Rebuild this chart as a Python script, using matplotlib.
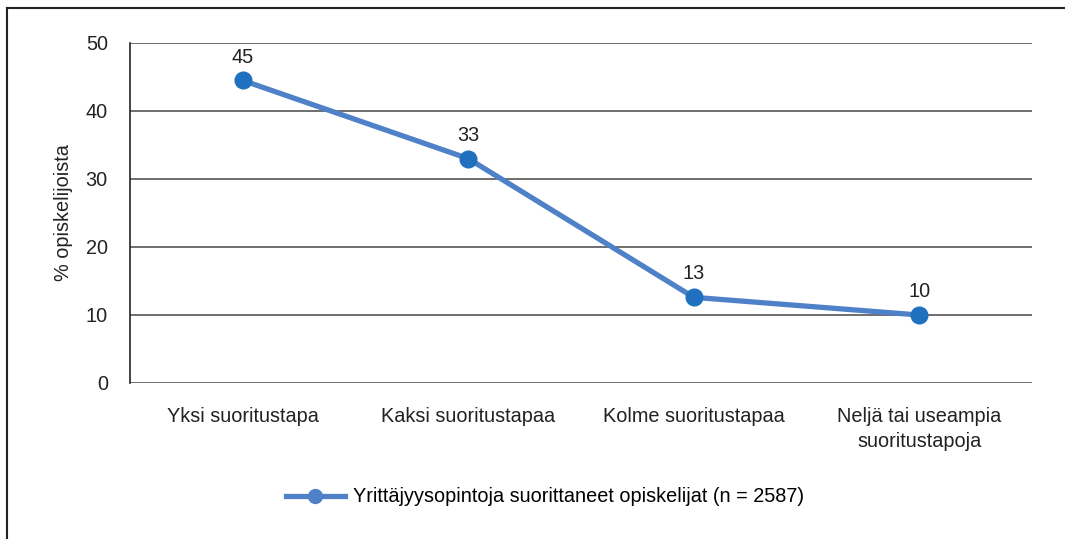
import matplotlib.pyplot as plt
from matplotlib.lines import Line2D

categories = ["Yksi suoritustapa", "Kaksi suoritustapaa", "Kolme suoritustapaa",
              "Neljä tai useampia\nsuoritustapoja"]
values = [44.5, 33.0, 12.6, 10.0]
value_labels = ["45", "33", "13", "10"]
yticks = [0, 10, 20, 30, 40, 50]
series_name = "Yrittäjyysopintoja suorittaneet opiskelijat (n = 2587)"

plt.rcParams["font.family"] = ["Liberation Sans", "DejaVu Sans"]
fs = 14.3

fig = plt.figure(figsize=(10.65, 5.39), dpi=100)
ax = fig.add_axes([130 / 1065, 1 - 383 / 539, 902 / 1065, 340 / 539])

x = list(range(len(categories)))
ax.plot(x, values, color="#4F81C9", linewidth=3.8, marker="o", markersize=12,
        markerfacecolor="#1F70BE", markeredgecolor="#1F70BE", zorder=3)
for xi, v, lab in zip(x, values, value_labels):
    ax.annotate(lab, (xi, v), textcoords="offset points", xytext=(0, 10),
                ha="center", va="bottom", fontsize=fs, color="#222222")

ax.set_xlim(-0.5, len(categories) - 0.5)
ax.set_ylim(0, 50)
ax.set_yticks(yticks)
ax.yaxis.grid(True, color="#555555", linewidth=1.2)
ax.set_axisbelow(True)
ax.set_xticks(x)
ax.set_xticklabels(categories, fontsize=fs, color="#222222", linespacing=1.45)
ax.tick_params(axis="both", length=0, labelsize=fs, labelcolor="#222222")
ax.tick_params(axis="x", pad=17)
ax.tick_params(axis="y", pad=16)
for side in ["top", "right", "bottom"]:
    ax.spines[side].set_visible(False)
ax.spines["left"].set_color("#222222")
ax.spines["left"].set_linewidth(1.2)
ax.set_ylabel("% opiskelijoista", fontsize=fs, color="#222222", labelpad=9)

handle = Line2D([], [], color="#4F81C9", linewidth=3.8, marker="o", markersize=10,
                markerfacecolor="#4F81C9", markeredgecolor="#4F81C9")
fig.legend([handle], [series_name], loc="center", bbox_to_anchor=(545 / 1065, 1 - 497 / 539),
           frameon=False, fontsize=fs, handlelength=3.0, handletextpad=0.4)

# frame around the figure (top and left edges visible)
fig.add_artist(Line2D([7 / 1065, 1], [1 - 8 / 539, 1 - 8 / 539], color="#222222", linewidth=1.5))
fig.add_artist(Line2D([7 / 1065, 7 / 1065], [0, 1 - 8 / 539], color="#222222", linewidth=1.5))

fig.savefig("out.png", dpi=100)
